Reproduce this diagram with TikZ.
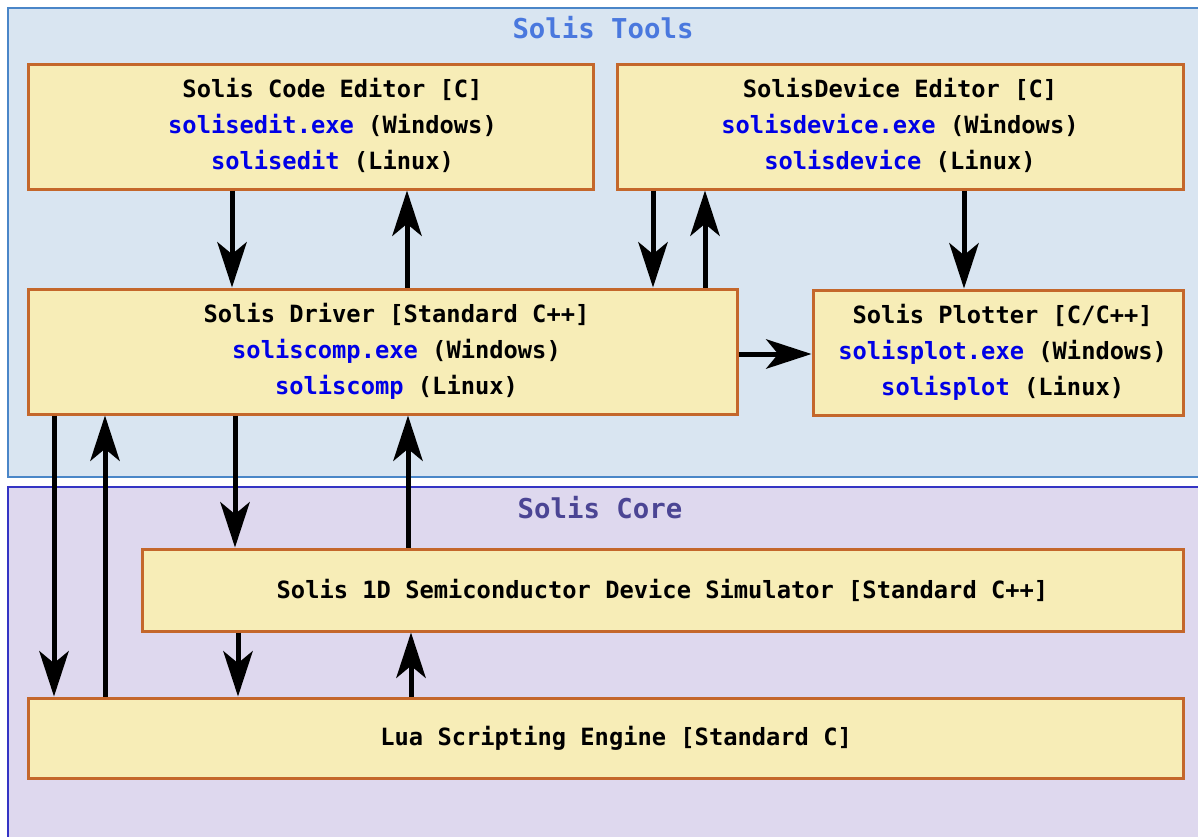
\documentclass[tikz,border=0pt]{standalone}
\usepackage{fontspec}
\setmonofont{DejaVu Sans Mono}
\usepackage{xcolor}
\usetikzlibrary{arrows.meta,positioning}

\definecolor{toolsfill}{HTML}{D9E5F1}
\definecolor{toolsline}{HTML}{4A86C8}
\definecolor{toolstext}{HTML}{4A78DE}
\definecolor{corefill}{HTML}{DED8EE}
\definecolor{coreline}{HTML}{3434C4}
\definecolor{coretext}{HTML}{4B4594}
\definecolor{blkfill}{HTML}{F7EDB7}
\definecolor{blkline}{HTML}{C4672B}
\definecolor{exeblue}{HTML}{0000E6}

\newcommand{\exe}[1]{\textcolor{exeblue}{#1}}
% text block, pushed right by #1 inside its box
\newcommand{\blktext}[2]{\hspace*{#1}\begin{tabular}{@{}c@{}}#2\end{tabular}}

\tikzset{
  blk/.style={draw=blkline,fill=blkfill,line width=2.25pt,
    font=\ttfamily\bfseries\fontsize{17.8}{27}\selectfont,inner sep=0pt},
  arr/.style={line width=3.75pt,-{Stealth[length=34pt,width=22pt,inset=9pt]}},
  paneltitle/.style={font=\ttfamily\bfseries\fontsize{20.5}{24}\selectfont}
}

\begin{document}
\begin{tikzpicture}[x=0.75pt,y=-0.75pt]
    \useasboundingbox (0,0) rectangle (1198,836);

    % Panels
    \draw[fill=toolsfill,draw=toolsline,line width=1.2pt] (8,8) rectangle (1205,477);
    \draw[fill=corefill,draw=coreline,line width=1.2pt] (8,487) rectangle (1205,845);
    \node[paneltitle,text=toolstext] (ttools) at (603,28) {Solis Tools};
    \node[paneltitle,text=coretext] (tcore) at (600,508) {Solis Core};

    % Tools
    \node[blk,minimum width=423.75pt,minimum height=93.75pt] (edit) at (310.5,126.5)
      {\blktext{33pt}{Solis Code Editor [C]\\ \exe{solisedit.exe} (Windows)\\ \exe{solisedit} (Linux)}};
    \node[blk,minimum width=424.5pt,minimum height=93.75pt] (dev) at (900,126.5)
      {\blktext{0pt}{SolisDevice Editor [C]\\ \exe{solisdevice.exe} (Windows)\\ \exe{solisdevice} (Linux)}};
    \node[blk,minimum width=531.75pt,minimum height=93.75pt] (drv) at (382.5,351.5)
      {\blktext{21pt}{Solis Driver [Standard C++]\\ \exe{soliscomp.exe} (Windows)\\ \exe{soliscomp} (Linux)}};
    \node[blk,minimum width=277.5pt,minimum height=93.75pt] (plot) at (998,352.5)
      {\blktext{7pt}{Solis Plotter [C/C++]\\ \exe{solisplot.exe} (Windows)\\ \exe{solisplot} (Linux)}};

    % Core
    \node[blk,minimum width=780.75pt,minimum height=61.5pt] (sim) at (662.5,590)
      {Solis 1D Semiconductor Device Simulator [Standard C++]};
    \node[blk,minimum width=866.25pt,minimum height=60pt] (lua) at (605.5,738)
      {\blktext{16pt}{Lua Scripting Engine [Standard C]}};

    % Arrows
    \draw[arr] (edit.south -| 232,0) -- (drv.north -| 232,0);
    \draw[arr] (drv.north -| 407,0) -- (edit.south -| 407,0);
    \draw[arr] (dev.south -| 653,0) -- (drv.north -| 653,0);
    \draw[arr] (drv.north -| 705,0) -- (dev.south -| 705,0);
    \draw[arr] (dev.south -| 964,0) -- (plot.north -| 964,0);
    \draw[arr] (drv.east |- 0,354) -- (plot.west |- 0,354);
    \draw[arr] (drv.south -| 54,0) -- (lua.north -| 54,0);
    \draw[arr] (lua.north -| 105,0) -- (drv.south -| 105,0);
    \draw[arr] (drv.south -| 235,0) -- (sim.north -| 235,0);
    \draw[arr] (sim.north -| 408,0) -- (drv.south -| 408,0);
    \draw[arr] (sim.south -| 238,0) -- (lua.north -| 238,0);
    \draw[arr] (lua.north -| 411,0) -- (sim.south -| 411,0);
\end{tikzpicture}
\end{document}
